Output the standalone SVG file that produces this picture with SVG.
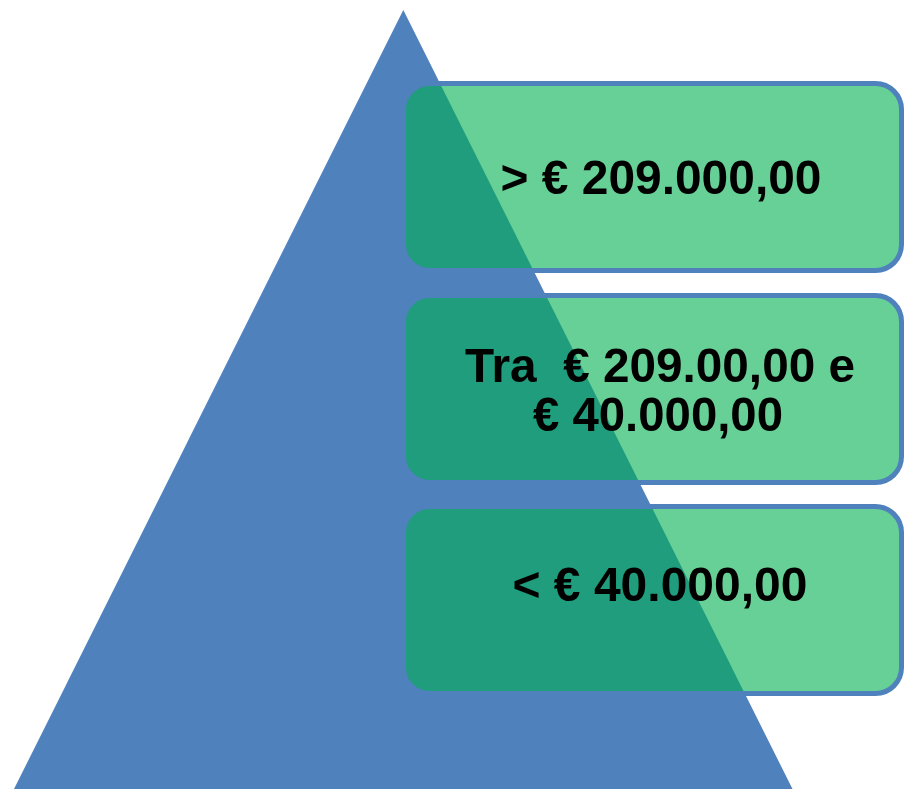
<svg xmlns="http://www.w3.org/2000/svg" width="905" height="789" viewBox="0 0 905 789">
  <style>
    .box { fill: #00B050; fill-opacity: 0.6; stroke: #4F81BD; stroke-width: 5; }
    .lbl { font-family: "Liberation Sans", Arial, sans-serif; font-weight: bold; font-size: 49px; fill: #000000; text-anchor: middle; }
  </style>
  <rect width="905" height="789" fill="#FFFFFF"/>
  <g id="pyramid">
    <polygon points="403.3,10 8.5,800 798,800" fill="#4F81BD"/>
  </g>
  <g id="connectors"></g>
  <g id="node-top">
    <rect class="box" x="403.5" y="83.5" width="498" height="187" rx="26" ry="26"/>
    <text class="lbl" x="661" y="194" textLength="321" lengthAdjust="spacingAndGlyphs">&gt; € 209.000,00</text>
  </g>
  <g id="node-middle">
    <rect class="box" x="403.5" y="295.5" width="498" height="187" rx="26" ry="26"/>
    <text class="lbl" x="660" y="382" xml:space="preserve" textLength="390" lengthAdjust="spacingAndGlyphs">Tra  € 209.00,00 e</text>
    <text class="lbl" x="658" y="431" textLength="250" lengthAdjust="spacingAndGlyphs">€ 40.000,00</text>
  </g>
  <g id="node-bottom">
    <rect class="box" x="403.5" y="506.5" width="498" height="187" rx="26" ry="26"/>
    <text class="lbl" x="660" y="601" textLength="295" lengthAdjust="spacingAndGlyphs">&lt; € 40.000,00</text>
  </g>
</svg>
